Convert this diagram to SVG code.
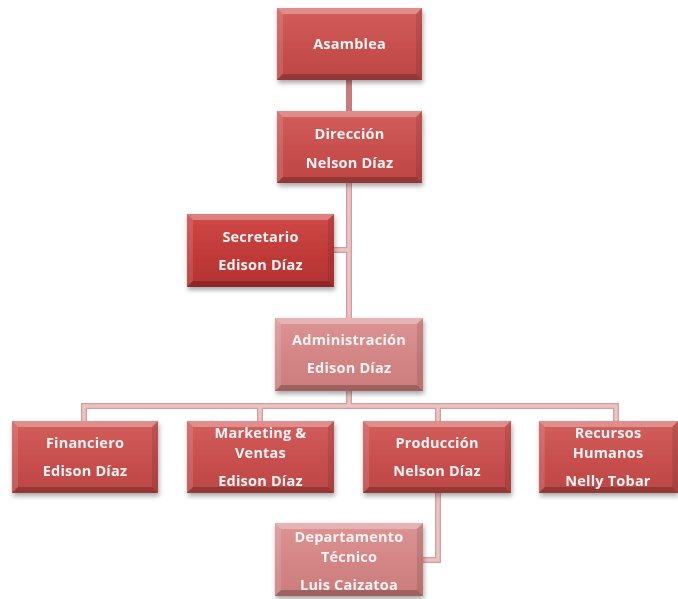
<svg xmlns="http://www.w3.org/2000/svg" width="678" height="599" viewBox="0 0 678 599">
  <defs>
    <linearGradient id="gRed" x1="0" y1="0" x2="0" y2="1">
      <stop offset="0" stop-color="#d35f5d"/>
      <stop offset="0.5" stop-color="#c8504e"/>
      <stop offset="1" stop-color="#bd4745"/>
    </linearGradient>
    <linearGradient id="gDark" x1="0" y1="0" x2="0" y2="1">
      <stop offset="0" stop-color="#cf4a48"/>
      <stop offset="0.5" stop-color="#c23b3a"/>
      <stop offset="1" stop-color="#b53332"/>
    </linearGradient>
    <linearGradient id="gPale" x1="0" y1="0" x2="0" y2="1">
      <stop offset="0" stop-color="#dd9595"/>
      <stop offset="0.5" stop-color="#d48686"/>
      <stop offset="1" stop-color="#cb7c7c"/>
    </linearGradient>
    <filter id="shadow" x="-10%" y="-15%" width="125%" height="140%">
      <feDropShadow dx="1" dy="3" stdDeviation="2.5" flood-color="#000" flood-opacity="0.35"/>
    </filter>
    <!-- bevel overlay shared by every box, stretched to the box size -->
    <symbol id="bevel" viewBox="0 0 146 72" preserveAspectRatio="none">
      <polygon points="0,0 146,0 140,6 6,6" fill="#fff" fill-opacity="0.3"/>
      <polygon points="0,0 6,6 6,66 0,72" fill="#fff" fill-opacity="0.12"/>
      <polygon points="146,0 146,72 140,66 140,6" fill="#000" fill-opacity="0.1"/>
      <polygon points="0,72 6,66 140,66 146,72" fill="#000" fill-opacity="0.22"/>
    </symbol>
  </defs>
  <style>
    .red { fill: url(#gRed); }
    .dark { fill: url(#gDark); }
    .pale { fill: url(#gPale); }
    .node { filter: url(#shadow); }
    .lbl { font-family: "Open Sans", "Liberation Sans", sans-serif; font-size: 14.5px; font-weight: 700; fill: #f7f3f3; text-anchor: middle; letter-spacing: 0.2px; }
    .edge-out { fill: none; stroke: #d79c9c; stroke-width: 6; }
    .edge-in { fill: none; stroke: #ebc3c3; stroke-width: 3.5; }
    .edge-top { fill: none; stroke: #c97b7b; stroke-width: 6; }
  </style>

  <g id="connectors">
    <line class="edge-top" x1="349" y1="79" x2="349" y2="111"/>
    <path class="edge-out" d="M349,183 V318 M334,250 H349 M349,391 V406 M84,421 V406 H616 V421 M260,406 V421 M438,406 V421 M438,493 V560 H423"/>
    <path class="edge-in" d="M349,183 V318 M334,250 H349 M349,391 V406 M84,421 V406 H616 V421 M260,406 V421 M438,406 V421 M438,493 V560 H423"/>
  </g>

  <g id="asamblea" class="node">
    <rect class="red" x="277" y="8" width="145" height="72"/>
    <use href="#bevel" x="277" y="8" width="145" height="72"/>
    <text class="lbl" x="349.5" y="49">Asamblea</text>
  </g>

  <g id="direccion" class="node">
    <rect class="red" x="277" y="111" width="145" height="72"/>
    <use href="#bevel" x="277" y="111" width="145" height="72"/>
    <text class="lbl" x="349.5" y="139">Dirección</text>
    <text class="lbl" x="349.5" y="168">Nelson Díaz</text>
  </g>

  <g id="secretario" class="node">
    <rect class="dark" x="187" y="214" width="147" height="73"/>
    <use href="#bevel" x="187" y="214" width="147" height="73"/>
    <text class="lbl" x="260.5" y="242">Secretario</text>
    <text class="lbl" x="260.5" y="270">Edison Díaz</text>
  </g>

  <g id="administracion" class="node">
    <rect class="pale" x="275" y="318" width="148" height="73"/>
    <use href="#bevel" x="275" y="318" width="148" height="73"/>
    <text class="lbl" x="349" y="345">Administración</text>
    <text class="lbl" x="349" y="373">Edison Díaz</text>
  </g>

  <g id="financiero" class="node">
    <rect class="red" x="12" y="421" width="146" height="72"/>
    <use href="#bevel" x="12" y="421" width="146" height="72"/>
    <text class="lbl" x="85" y="448">Financiero</text>
    <text class="lbl" x="85" y="476">Edison Díaz</text>
  </g>

  <g id="marketing" class="node">
    <rect class="red" x="187" y="421" width="147" height="72"/>
    <use href="#bevel" x="187" y="421" width="147" height="72"/>
    <text class="lbl" x="260.5" y="438">Marketing &amp;</text>
    <text class="lbl" x="260.5" y="458">Ventas</text>
    <text class="lbl" x="260.5" y="486">Edison Díaz</text>
  </g>

  <g id="produccion" class="node">
    <rect class="red" x="363" y="421" width="148" height="72"/>
    <use href="#bevel" x="363" y="421" width="148" height="72"/>
    <text class="lbl" x="437" y="448">Producción</text>
    <text class="lbl" x="437" y="476">Nelson Díaz</text>
  </g>

  <g id="recursos" class="node">
    <rect class="red" x="539" y="421" width="139" height="72"/>
    <use href="#bevel" x="539" y="421" width="139" height="72"/>
    <text class="lbl" x="608" y="438">Recursos</text>
    <text class="lbl" x="608" y="458">Humanos</text>
    <text class="lbl" x="608" y="486">Nelly Tobar</text>
  </g>

  <g id="departamento" class="node">
    <rect class="pale" x="275" y="523" width="148" height="73"/>
    <use href="#bevel" x="275" y="523" width="148" height="73"/>
    <text class="lbl" x="349" y="542">Departamento</text>
    <text class="lbl" x="349" y="562">Técnico</text>
    <text class="lbl" x="349" y="590">Luis Caizatoa</text>
  </g>
</svg>
